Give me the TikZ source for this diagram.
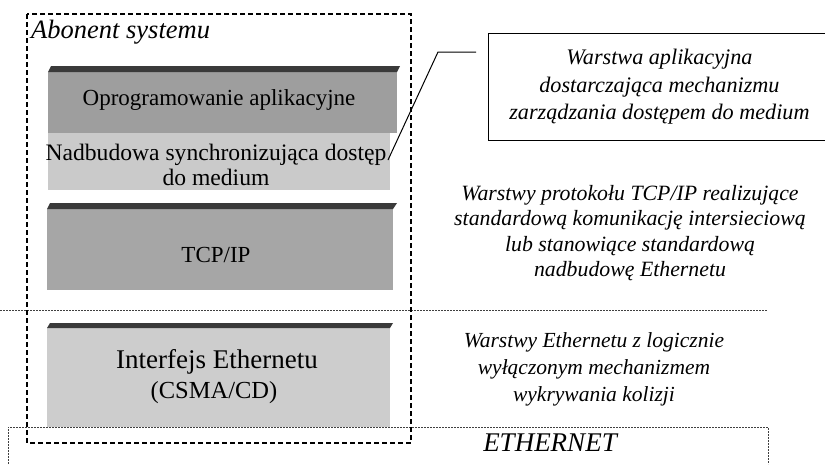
\documentclass[tikz,border=0pt]{standalone}
\usepackage{fontspec}
\setmainfont{Liberation Serif}
\definecolor{bandc}{HTML}{3A3A3A}
\definecolor{appc}{HTML}{9E9E9E}
\definecolor{syncc}{HTML}{CACACA}
\definecolor{tcpc}{HTML}{A6A6A6}
\definecolor{ethc}{HTML}{CDCDCD}
\begin{document}
\begin{tikzpicture}[x=1pt,y=-1pt,
  slabtext/.style={inner sep=0pt, align=center, font=\fontsize{23}{25}\selectfont},
  notetext/.style={inner sep=0pt, align=center, font=\fontsize{21.8}{26.5}\selectfont\itshape},
  band/.style={fill=bandc},
  outerbox/.style={draw=black, line width=1.3pt, dash pattern=on 5pt off 3pt},
  sepline/.style={draw=black!75, line width=0.8pt, dash pattern=on 1.5pt off 1.5pt},
  ethline/.style={draw=black!75, line width=0.9pt, dash pattern=on 2pt off 1pt},
  callout/.style={draw=black, line width=0.9pt, minimum width=342pt, minimum height=107pt, inner sep=0pt, align=center, font=\fontsize{22.2}{27.5}\selectfont\itshape}
]
\useasboundingbox (0,0) rectangle (825,464);
\fill[white] (0,0) rectangle (825,464);

% separator and Ethernet medium
\draw[sepline] (0,310) -- (768,310);
\draw[ethline] (8,464) -- (8,427) -- (768,427) -- (768,464);
\node[inner sep=0pt, font=\fontsize{27}{29}\selectfont\itshape] (ethernet) at (550,443) {ETHERNET};

% slab 1: application + synchronisation
\fill[appc] (48,72) rectangle (397,133);
\fill[syncc] (48,133) rectangle (390,190);
\fill[band] (51,66) -- (400,66) -- (397,72) -- (48,72) -- cycle;
\node[slabtext] (app) at (219,100) {Oprogramowanie aplikacyjne};
\node[slabtext, font=\fontsize{23.6}{25}\selectfont] (sync) at (216,164.5) {Nadbudowa synchronizująca dostęp\\do medium};

% slab 2: TCP/IP
\fill[tcpc] (47,209) rectangle (393,290);
\fill[band] (50,203) -- (397,203) -- (393,209) -- (47,209) -- cycle;
\node[slabtext] (tcp) at (216,255) {TCP/IP};

% slab 3: Ethernet interface
\fill[ethc] (47,328) rectangle (390,427);
\fill[band] (50,323) -- (393,323) -- (390,328) -- (47,328) -- cycle;
\node[inner sep=0pt, font=\fontsize{27}{29}\selectfont] (iface) at (217,362) {Interfejs Ethernetu};
\node[inner sep=0pt, font=\fontsize{24.5}{26}\selectfont] (csma) at (214,393) {(CSMA/CD)};

% outer subscriber box
\draw[outerbox] (27,14) rectangle (411,443);
\node[anchor=west, inner sep=0pt, font=\fontsize{26.5}{29}\selectfont\itshape] (abonent) at (31,32) {Abonent systemu};

% callout
\node[callout, anchor=north west] (call) at (488,33) {Warstwa aplikacyjna\\dostarczająca mechanizmu\\zarządzania dostępem do medium};
\coordinate (p0) at (388,160);
\coordinate (p1) at (438,52);
\draw[line width=1pt, shorten >=12pt] (p0) -- (p1) -- (call.west |- p1);

% notes
\node[notetext, font=\fontsize{21.8}{25.5}\selectfont\itshape] (tcpnote) at (630,233) {Warstwy protokołu TCP/IP realizujące\\standardową komunikację intersieciową\\lub stanowiące standardową\\nadbudowę Ethernetu};
\node[notetext, font=\fontsize{21.5}{27}\selectfont\itshape] (ethnote) at (594,369) {Warstwy Ethernetu z logicznie\\wyłączonym mechanizmem\\wykrywania kolizji};
\end{tikzpicture}
\end{document}
